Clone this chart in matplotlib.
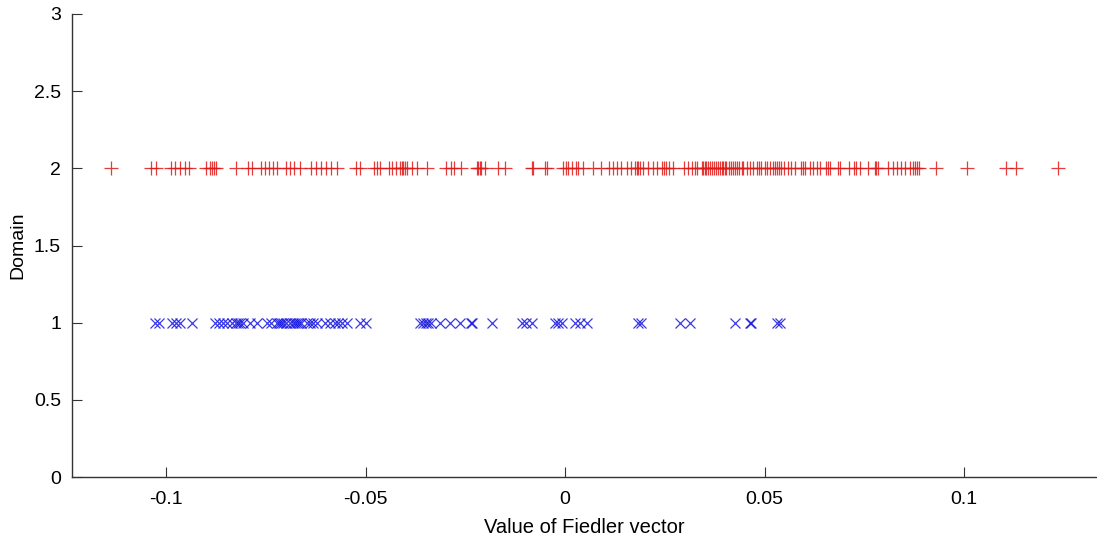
import numpy as np
import matplotlib.pyplot as plt

# values of the Fiedler vector, domain 2 (red +)
domain2 = [
    -0.1137, -0.1038, -0.1026, -0.0989, -0.0977, -0.0966, -0.0954, -0.0944,
    -0.0899, -0.0891, -0.0884, -0.0879, -0.0874, -0.0824, -0.0794, -0.0786,
    -0.0763, -0.0753, -0.0742, -0.0732, -0.0722, -0.0700, -0.0690, -0.0680,
    -0.0665, -0.0636, -0.0625, -0.0613, -0.0600, -0.0588, -0.0573, -0.0525,
    -0.0515, -0.0480, -0.0471, -0.0464, -0.0441, -0.0433, -0.0424, -0.0414,
    -0.0410, -0.0406, -0.0402, -0.0396, -0.0385, -0.0372, -0.0347, -0.0299,
    -0.0287, -0.0278, -0.0260, -0.0222, -0.0218, -0.0214, -0.0210, -0.0201,
    -0.0168, -0.0151, -0.0084, -0.0080, -0.0051, -0.0045, -0.0005, 0.0002,
    0.0008, 0.0016, 0.0026, 0.0033, 0.0045, 0.0069, 0.0091, 0.0110,
    0.0120, 0.0129, 0.0141, 0.0154, 0.0166, 0.0175, 0.0179, 0.0183,
    0.0187, 0.0196, 0.0208, 0.0221, 0.0231, 0.0242, 0.0247, 0.0254,
    0.0261, 0.0271, 0.0297, 0.0308, 0.0317, 0.0325, 0.0331, 0.0342,
    0.0346, 0.0350, 0.0354, 0.0358, 0.0363, 0.0367, 0.0373, 0.0379,
    0.0383, 0.0388, 0.0392, 0.0396, 0.0400, 0.0404, 0.0410, 0.0415,
    0.0420, 0.0425, 0.0430, 0.0436, 0.0442, 0.0446, 0.0455, 0.0463,
    0.0471, 0.0480, 0.0486, 0.0492, 0.0501, 0.0506, 0.0513, 0.0521,
    0.0526, 0.0530, 0.0536, 0.0542, 0.0548, 0.0559, 0.0567, 0.0576,
    0.0592, 0.0597, 0.0601, 0.0613, 0.0622, 0.0630, 0.0638, 0.0653,
    0.0659, 0.0665, 0.0684, 0.0690, 0.0712, 0.0724, 0.0730, 0.0740,
    0.0759, 0.0776, 0.0780, 0.0784, 0.0810, 0.0822, 0.0831, 0.0841,
    0.0851, 0.0864, 0.0871, 0.0876, 0.0881, 0.0887, 0.0929, 0.1008,
    0.1106, 0.1131, 0.1236,
]

# domain 1 (blue x)
domain1 = [
    -0.1028, -0.1018, -0.0986, -0.0976, -0.0966, -0.0936, -0.0878, -0.0867,
    -0.0857, -0.0847, -0.0834, -0.0825, -0.0820, -0.0814, -0.0807, -0.0790,
    -0.0773, -0.0748, -0.0736, -0.0723, -0.0717, -0.0711, -0.0707, -0.0700,
    -0.0690, -0.0683, -0.0677, -0.0673, -0.0667, -0.0661, -0.0648, -0.0640,
    -0.0633, -0.0623, -0.0602, -0.0590, -0.0577, -0.0569, -0.0560, -0.0548,
    -0.0515, -0.0498, -0.0364, -0.0356, -0.0349, -0.0343, -0.0335, -0.0314,
    -0.0289, -0.0264, -0.0235, -0.0233, -0.0184, -0.0109, -0.0097, -0.0084,
    -0.0026, -0.0017, -0.0009, 0.0024, 0.0037, 0.0054, 0.0183, 0.0191,
    0.0287, 0.0313, 0.0425, 0.0463, 0.0465, 0.0530, 0.0538,
]

plt.rcParams['font.family'] = ['Liberation Sans', 'DejaVu Sans']

fig = plt.figure(figsize=(10.97, 5.44), dpi=100)
ax = fig.add_axes([72/1097, 67/544, 1025/1097, 463/544])

ax.plot(domain2, np.full(len(domain2), 2), linestyle='none', marker='+',
        color='#e01818', markersize=10, markeredgewidth=0.9, alpha=0.85)
ax.plot(domain1, np.full(len(domain1), 1), linestyle='none', marker='x',
        color='#1818e0', markersize=7, markeredgewidth=0.9, alpha=0.85)

ax.set_xlim(-0.1236, 0.1333)
ax.set_ylim(0, 3)
ax.set_xticks([-0.1, -0.05, 0, 0.05, 0.1])
ax.set_xticklabels(['-0.1', '-0.05', '0', '0.05', '0.1'])
ax.set_yticks([0, 0.5, 1, 1.5, 2, 2.5, 3])
ax.set_yticklabels(['0', '0.5', '1', '1.5', '2', '2.5', '3'])

for s in ['top', 'right']:
    ax.spines[s].set_visible(False)
for s in ['left', 'bottom']:
    ax.spines[s].set_color('#333333')
    ax.spines[s].set_linewidth(1.0)

ax.tick_params(direction='in', length=7, width=0.8, color='#333333',
               labelsize=14, labelcolor='black')
ax.tick_params(axis='x', pad=10)
ax.tick_params(axis='y', pad=8)

ax.set_xlabel('Value of Fiedler vector', fontsize=14.5, labelpad=7)
ax.set_ylabel('Domain', fontsize=14, labelpad=5)

fig.savefig('out.png', dpi=100)
